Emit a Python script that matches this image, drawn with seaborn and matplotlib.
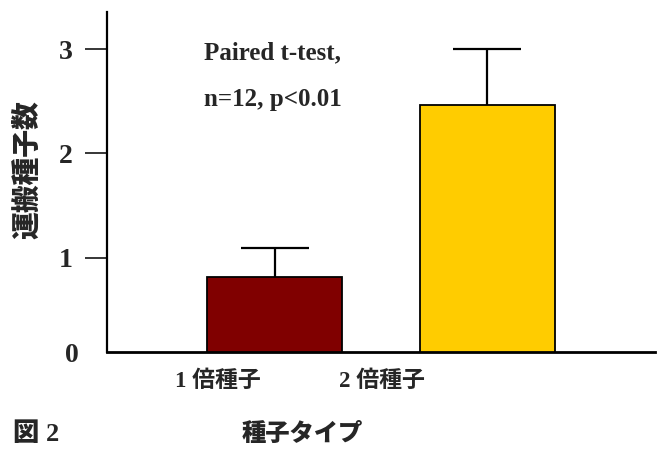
import matplotlib
matplotlib.use("Agg")
import matplotlib.pyplot as plt
import seaborn as sns

# データ
categories = ["1 倍種子", "2 倍種子"]
means = [0.81, 2.46]
errors = [0.28, 0.54]
bar_colors = ["#800000", "#FFCC00"]
y_ticks = [1, 2, 3]

sns.set_style("white")
fonts = ["Liberation Serif", "Noto Sans CJK JP"]
plt.rcParams["font.family"] = fonts
plt.rcParams["font.weight"] = "bold"

fig = plt.figure(figsize=(6.58, 4.5), dpi=100)
ax = fig.add_axes([0.1626, 0.2171, 0.8328, 0.7569])

sns.barplot(x=categories, y=means, hue=categories, palette=bar_colors,
            saturation=1, legend=False, width=0.635, edgecolor="black",
            linewidth=1.3, ax=ax)

# 上側だけのエラーバー
eb = ax.errorbar(x=categories, y=means, yerr=[[0] * len(errors), errors],
                 fmt="none", ecolor="black", elinewidth=1.6, capsize=24.5,
                 capthick=1.6, zorder=5)
eb[1][0].set_visible(False)  # 下側のキャップは不要

y_bottom = 0.09
ax.set_ylim(y_bottom, 3.36)
ax.set_xlim(-0.789, 1.788)

ax.set_yticks(y_ticks, [str(t) for t in y_ticks])
ax.set_yticks([y_bottom], ["0"], minor=True)
ax.tick_params(axis="y", which="major", direction="out", length=16,
               width=1.3, pad=9, labelsize=20, left=True)
ax.tick_params(axis="y", which="minor", length=0, pad=20, labelsize=20)

# x軸ラベルは棒の中心から左にずれている
ax.set_xticks([-0.267, 0.504], categories)
ax.tick_params(axis="x", length=0, pad=13, labelsize=16.5)

for lbl in ax.get_yticklabels(which="both") + ax.get_xticklabels():
    lbl.set_fontweight("bold")

sns.despine(ax=ax)
ax.spines["left"].set_linewidth(1.6)
ax.spines["bottom"].set_linewidth(2.0)
ax.spines["left"].set_color("black")
ax.spines["bottom"].set_color("black")

ax.set_xlabel("")
ax.set_ylabel("")

ax.text(0.177, 0.879, "Paired t-test,", transform=ax.transAxes,
        fontsize=18, fontweight="bold", va="center", ha="left")
ax.text(0.177, 0.741, "n=12, p<0.01", transform=ax.transAxes,
        fontsize=18, fontweight="bold", va="center", ha="left")

fig.text(0.0426, 0.622, "運搬種子数", rotation=90, fontsize=20,
         fontweight="heavy", ha="center", va="center")
fig.text(0.46, 0.035, "種子タイプ", fontsize=17.5, fontweight="heavy",
         ha="center", va="center")
fig.text(0.02, 0.035, "図 2", fontsize=19, fontweight="heavy",
         ha="left", va="center")

fig.savefig("out.png", dpi=100)
